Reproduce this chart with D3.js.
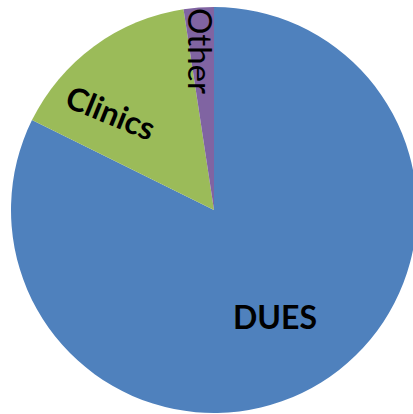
<!DOCTYPE html>
<html>
<head>
<meta charset="utf-8">
<script src="https://cdn.jsdelivr.net/npm/d3@7"></script>
<style>
  html, body { margin: 0; padding: 0; background: #fff; }
  svg { display: block; }
</style>
</head>
<body>
<div id="pie"></div>
<script>
// slices, clockwise from 12 o'clock
const categories = ['DUES', 'Clinics', 'Other'];
const values = [82.3, 15.3, 2.4];
const colors = ['#4F81BD', '#9BBB59', '#8064A2'];

const width = 413;
const height = 414;
const cx = 214;
const cy = 210;
const radius = 203;

const svg = d3.select('#pie')
  .append('svg')
  .attr('width', width)
  .attr('height', height);

const g = svg.append('g')
  .attr('transform', `translate(${cx},${cy})`);

const data = categories.map((c, i) => ({name: c, value: values[i], color: colors[i]}));

const pie = d3.pie()
  .sort(null)
  .value(d => d.value);

const arc = d3.arc()
  .innerRadius(0)
  .outerRadius(radius);

const arcs = pie(data);

g.selectAll('path.slice')
  .data(arcs)
  .enter()
  .append('path')
  .attr('class', 'slice')
  .attr('d', arc)
  .style('fill', d => d.data.color);

// labels (placement tuned by eye)
const labelPos = {
  DUES: {x: 61, y: 106, rot: 0, weight: 700, size: 32},
  Clinics: {x: -103, y: -98, rot: 22, weight: 700, size: 32},
  Other: {x: -13, y: -159, rot: 90, weight: 400, size: 33}
};

g.selectAll('text.label')
  .data(arcs)
  .enter()
  .append('text')
  .attr('class', 'label')
  .attr('transform', d => {
    const p = labelPos[d.data.name];
    return `translate(${p.x},${p.y}) rotate(${p.rot})`;
  })
  .attr('text-anchor', 'middle')
  .attr('dominant-baseline', 'central')
  .style('font-family', 'Lato, "Open Sans", sans-serif')
  .style('font-size', d => labelPos[d.data.name].size + 'px')
  .style('font-weight', d => labelPos[d.data.name].weight)
  .style('fill', '#000')
  .text(d => d.data.name);
</script>
</body>
</html>
